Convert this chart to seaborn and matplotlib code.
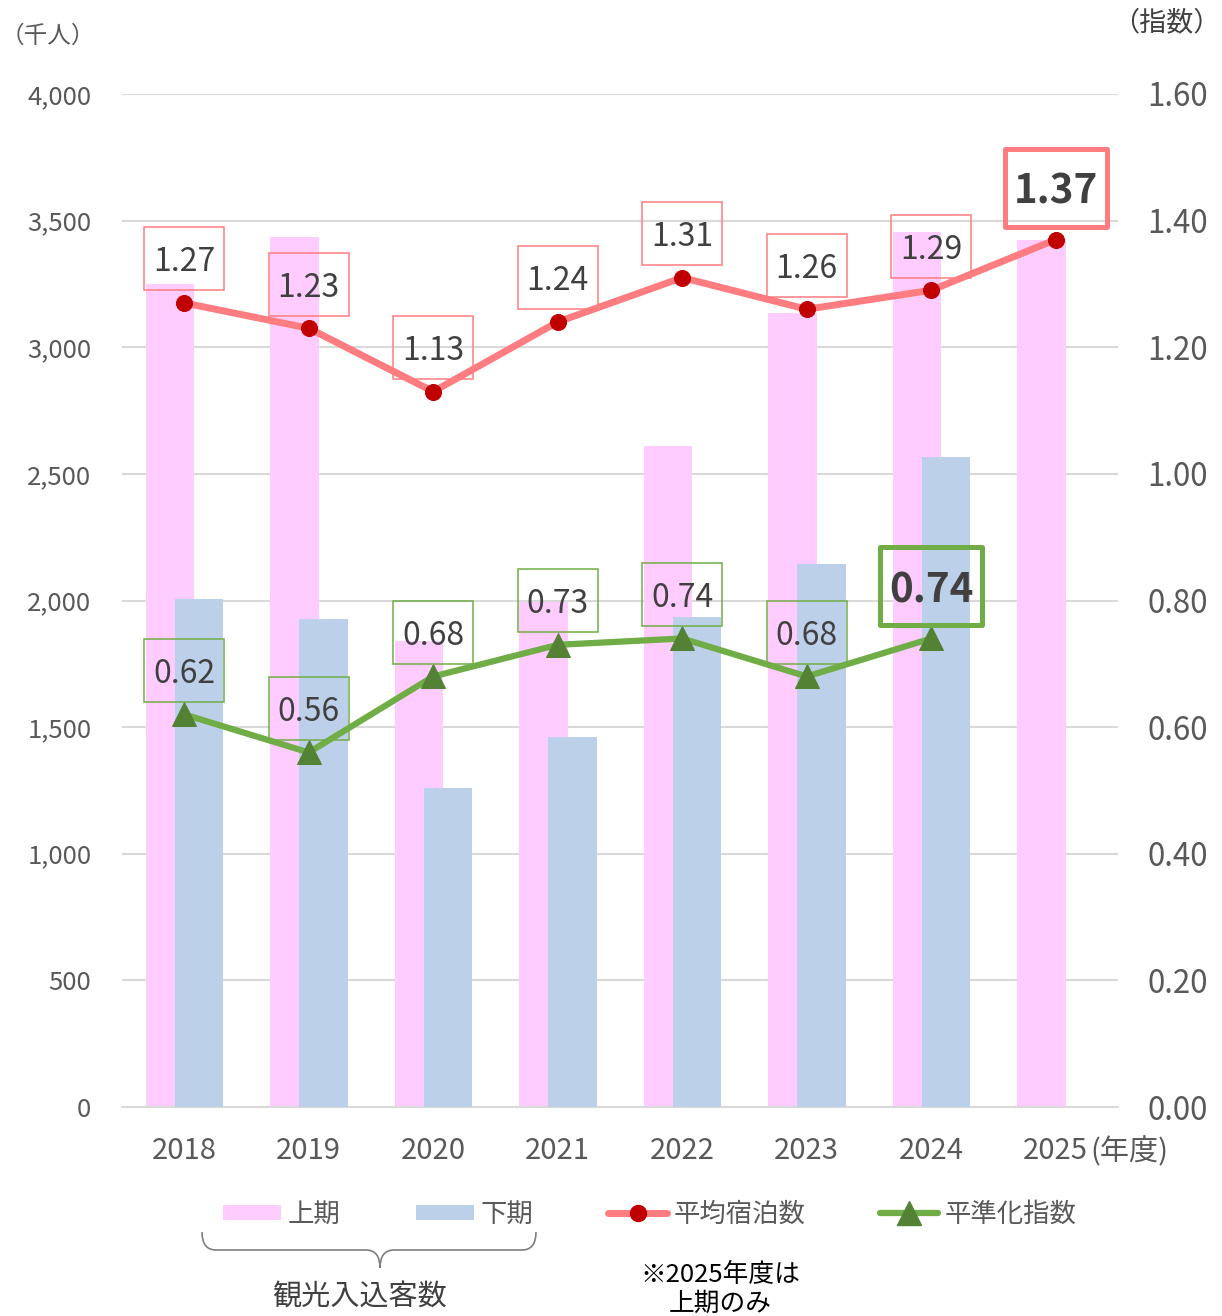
import numpy as np
import pandas as pd
import seaborn as sns
import matplotlib
matplotlib.use("Agg")
import matplotlib.pyplot as plt
from matplotlib.patches import Rectangle, Patch, PathPatch
from matplotlib.lines import Line2D
from matplotlib.path import Path

# ---------------- data ----------------
years = ["2018", "2019", "2020", "2021", "2022", "2023", "2024", "2025"]
first_half = [3250, 3435, 1840, 1995, 2610, 3135, 3455, 3425]      # 上期 (千人)
second_half = [2005, 1925, 1260, 1460, 1935, 2145, 2565]             # 下期 (千人), 2025 none
avg_stay = [1.27, 1.23, 1.13, 1.24, 1.31, 1.26, 1.29, 1.37]           # 平均宿泊数
leveling = [0.62, 0.56, 0.68, 0.73, 0.74, 0.68, 0.74]                 # 平準化指数
left_ticks = [0, 500, 1000, 1500, 2000, 2500, 3000, 3500, 4000]
right_ticks = [0.0, 0.2, 0.4, 0.6, 0.8, 1.0, 1.2, 1.4, 1.6]

# ---------------- style ----------------
sns.set_theme(style="white")
plt.rcParams["font.family"] = ["Noto Sans CJK JP", "DejaVu Sans"]

PINK = "#FFCCFF"
BLUE = "#BDD0E9"
RED_LINE = "#FF7C80"
RED_MK = "#C00000"
GREEN_LINE = "#70AD47"
GREEN_MK = "#548235"
GRID = "#D9D9D9"
TXT = "#595959"
DARK = "#404040"

W, H = 1222, 1316
fig = plt.figure(figsize=(W / 100, H / 100), dpi=100)
ax = fig.add_axes([122 / W, 1 - 1107 / H, (1118 - 122) / W, (1107 - 94) / H])
ax2 = ax.twinx()

idx = np.arange(len(years))
PX_X = 1.0 / ((1118 - 122) / 8)          # x data units per pixel
PX_Y2 = 1.6 / (1107 - 94)                # right-axis units per pixel

# bars (overlapping pair)
df1 = pd.DataFrame({"x": idx - 0.115, "v": first_half})
df2 = pd.DataFrame({"x": idx[:len(second_half)] + 0.12, "v": second_half})
sns.barplot(data=df1, x="x", y="v", native_scale=True, width=0.39, color=PINK,
            saturation=1, ax=ax, zorder=2, errorbar=None, linewidth=0)
sns.barplot(data=df2, x="x", y="v", native_scale=True, width=0.39, color=BLUE,
            saturation=1, ax=ax, zorder=3, errorbar=None, linewidth=0)

ax.set_xlim(-0.5, len(years) - 0.5)
ax.set_ylim(0, 4000)
ax.set_yticks(left_ticks)
ax.set_yticklabels([f"{t:,}" for t in left_ticks], fontsize=18.5, color=TXT)
ax.set_xticks(idx)
ax.set_xticklabels(years, fontsize=21, color=TXT)
ax.tick_params(axis="both", length=0)
ax.tick_params(axis="y", pad=22)
ax.tick_params(axis="x", pad=21)
ax.set_xlabel("")
ax.set_ylabel("")
ax.grid(axis="y", color=GRID, lw=1.5, zorder=0)
ax.set_axisbelow(True)
for s in ["top", "right", "left"]:
    ax.spines[s].set_visible(False)
ax.spines["bottom"].set_color(GRID)
ax.spines["bottom"].set_linewidth(1.5)

# lines on right axis
sns.lineplot(x=idx, y=avg_stay, ax=ax2, color=RED_LINE, lw=5, marker="o",
             markersize=11.5, markerfacecolor=RED_MK, markeredgecolor=RED_MK,
             zorder=5)
sns.lineplot(x=idx[:len(leveling)], y=leveling, ax=ax2, color=GREEN_LINE, lw=4.5,
             marker="^", markersize=17, markerfacecolor=GREEN_MK,
             markeredgecolor=GREEN_MK, zorder=5)
ax2.set_ylim(0, 1.6)
ax2.set_yticks(right_ticks)
ax2.set_yticklabels([f"{t:.2f}" for t in right_ticks], fontsize=22.5, color=TXT)
ax2.tick_params(axis="y", length=0, pad=21)
ax2.set_ylabel("")
for s in ["top", "right", "left", "bottom"]:
    ax2.spines[s].set_visible(False)


def label_box(x, y, text, color, bold=False):
    if bold:
        w, h, off, lw, fs = 102 * PX_X, 78 * PX_Y2, 52 * PX_Y2, 3.6, 29
    else:
        w, h, off, lw, fs = 80 * PX_X, 63 * PX_Y2, 44 * PX_Y2, 1.1, 23
    cy = y + off
    ax2.add_patch(Rectangle((x - w / 2, cy - h / 2), w, h, fill=False,
                            edgecolor=color, lw=lw, zorder=6,
                            joinstyle="round" if bold else "miter"))
    ax2.text(x, cy, text, ha="center", va="center_baseline", fontsize=fs,
             color=DARK, fontweight="bold" if bold else "normal", zorder=7)


for i, v in enumerate(avg_stay):
    label_box(i, v, f"{v:.2f}", RED_LINE, bold=(i == len(avg_stay) - 1))
for i, v in enumerate(leveling):
    label_box(i, v, f"{v:.2f}", GREEN_LINE, bold=(i == len(leveling) - 1))

# unit labels
fig.text(1 / W, 1 - 36 / H, "（千人）", fontsize=17, color=TXT, ha="left", va="center")
fig.text(1221 / W, 1 - 23 / H, "（指数）", fontsize=19.5, color=DARK, ha="right", va="center")
fig.text(1090 / W, 1 - 1152 / H, "(年度)", fontsize=21, color=TXT, ha="left", va="center")

# legend
handles = [
    Patch(facecolor=PINK, edgecolor="none"),
    Patch(facecolor=BLUE, edgecolor="none"),
    Line2D([], [], color=RED_LINE, lw=5, marker="o", markersize=11.5,
           markerfacecolor=RED_MK, markeredgecolor=RED_MK, solid_capstyle="round"),
    Line2D([], [], color=GREEN_LINE, lw=4.5, marker="^", markersize=17,
           markerfacecolor=GREEN_MK, markeredgecolor=GREEN_MK, solid_capstyle="round"),
]
labels = ["上期", "下期", "平均宿泊数", "平準化指数"]
leg = fig.legend(handles, labels, loc="center", bbox_to_anchor=(650 / W, 1 - 1214 / H),
                 ncol=4, frameon=False, fontsize=19, labelcolor=TXT,
                 handlelength=2.2, handleheight=0.5, handletextpad=0.25,
                 columnspacing=2.85)

# brace under bar legend entries
def fp(x, y):
    return (x / W, 1 - y / H)

verts = [fp(202, 1232), fp(202, 1250), fp(216, 1250),
         fp(366, 1250),
         fp(380, 1250), fp(380, 1268),
         fp(380, 1250), fp(394, 1250),
         fp(522, 1250),
         fp(536, 1250), fp(536, 1232)]
codes = [Path.MOVETO, Path.CURVE3, Path.CURVE3,
         Path.LINETO,
         Path.CURVE3, Path.CURVE3,
         Path.CURVE3, Path.CURVE3,
         Path.LINETO,
         Path.CURVE3, Path.CURVE3]
fig.patches.append(PathPatch(Path(verts, codes), transform=fig.transFigure,
                             fill=False, edgecolor="#7F7F7F", lw=1.2))

fig.text(360 / W, 1 - 1298 / H, "観光入込客数", fontsize=21, color=DARK,
         ha="center", va="center")
fig.text(720 / W, 1 - 1275 / H, "※2025年度は", fontsize=18.5, color="black",
         ha="center", va="center")
fig.text(720 / W, 1 - 1304 / H, "上期のみ", fontsize=18.5, color="black",
         ha="center", va="center")

fig.savefig("out.png", dpi=100)
